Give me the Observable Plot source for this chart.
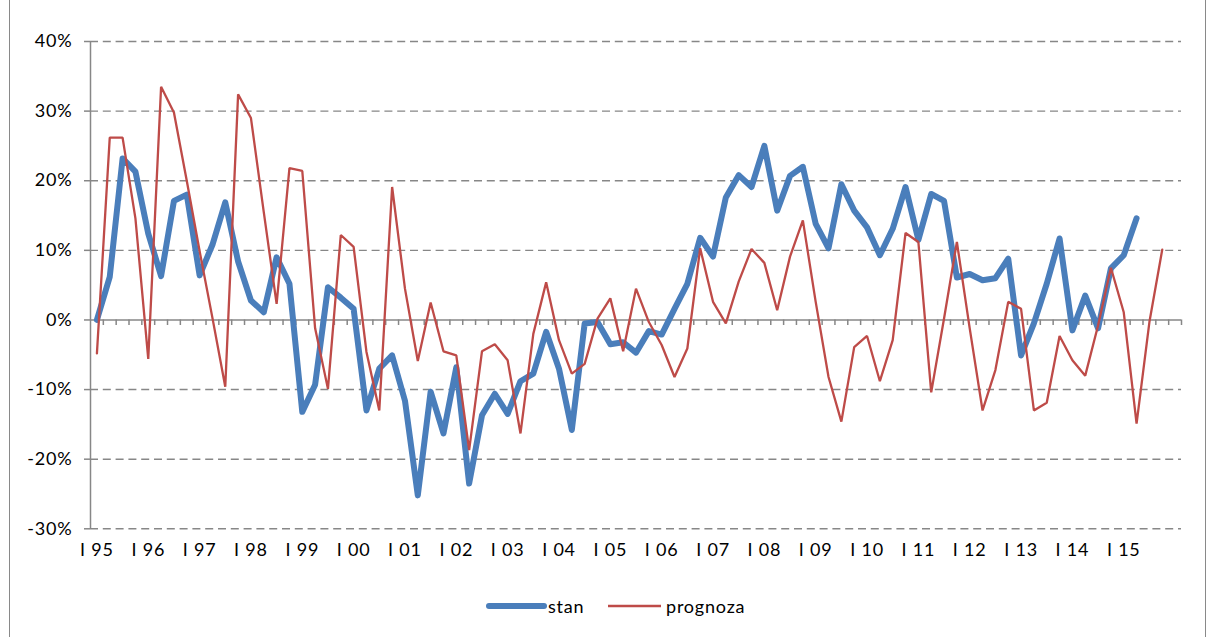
<!DOCTYPE html>
<html>
<head>
<meta charset="utf-8">
<script src="https://cdn.jsdelivr.net/npm/d3@7"></script>
<script src="https://cdn.jsdelivr.net/npm/@observablehq/plot@0.6"></script>
<style>
  body { margin: 0; background: #fff; }
  #wrap { position: relative; width: 1208px; height: 637px; overflow: hidden; font-family: Lato, "Open Sans", sans-serif; color: #000; }
  #frame { position: absolute; left: 9px; top: -2px; width: 1197px; height: 642px; border: 1px solid #898989; box-sizing: border-box; pointer-events: none; }
  #chart { position: absolute; left: 0; top: 0; }
  .lg { position: absolute; top: 594px; height: 24px; line-height: 24px; font-size: 18px; letter-spacing: 0.8px; }
</style>
</head>
<body>
<div id="wrap">
  <div id="chart"></div>
  <div id="legend"></div>
  <div id="frame"></div>
</div>
<script>
// ---- categories / tick labels ----
const years = ["95","96","97","98","99","00","01","02","03","04","05","06","07","08","09","10","11","12","13","14","15"];
const quarterNames = ["I","II","III","IV"];
const categories = [];
years.forEach(y => quarterNames.forEach(q => categories.push(q + " " + y)));
categories.push("I 16");
const tickLabels = years.map(y => "I " + y);
const yTicks = [-30, -20, -10, 0, 10, 20, 30, 40];

// ---- series values (%) ----
const stan = [
  0, 6.2, 23.2, 21.3, 12.4, 6.3, 17.1, 18.0, 6.4, 10.8, 16.9, 8.4, 2.8, 1.1, 9.0, 5.2,
  -13.2, -9.3, 4.7, 3.2, 1.6, -13.0, -7.0, -5.1, -11.6, -25.2, -10.3, -16.3, -6.8, -23.5, -13.7, -10.6,
  -13.5, -8.8, -7.7, -1.7, -7.0, -15.8, -0.5, -0.3, -3.5, -3.2, -4.7, -1.6, -2.1, 1.6, 5.2, 11.8,
  9.1, 17.6, 20.8, 19.1, 25.0, 15.7, 20.7, 22.0, 13.8, 10.3, 19.5, 15.7, 13.3, 9.3, 13.1, 19.1,
  11.5, 18.1, 17.1, 6.1, 6.6, 5.7, 6.0, 8.8, -5.1, -0.5, 5.2, 11.7, -1.5, 3.5, -1.2, 7.4,
  9.3, 14.6
];
const prognoza = [
  -4.8, 26.2, 26.2, 14.6, -5.6, 33.5, 29.8, 20.0, 9.9, 0.3, -9.6, 32.4, 29.0, 15.5, 2.3, 21.8,
  21.4, -1.2, -9.9, 12.2, 10.5, -4.6, -13.0, 19.1, 4.5, -5.9, 2.5, -4.5, -5.1, -18.7, -4.5, -3.5,
  -5.8, -16.3, -2.0, 5.4, -2.9, -7.7, -6.3, 0.2, 3.1, -4.5, 4.5, -0.3, -3.6, -8.2, -4.1, 10.3,
  2.6, -0.5, 5.5, 10.2, 8.2, 1.4, 9.1, 14.3, 2.6, -8.2, -14.6, -3.9, -2.3, -8.8, -2.9, 12.5,
  11.2, -10.4, 0.2, 11.2, -1.2, -13.0, -7.2, 2.6, 1.6, -13.0, -11.9, -2.3, -5.8, -8.0, -0.8, 7.5,
  1.1, -14.9, -0.3, 10.1
];

const colStan = "#4a7ebb";
const colProg = "#be4b48";
const axisCol = "#878787";

const stanData = stan.map((v, i) => ({ i, v }));
const progData = prognoza.map((v, i) => ({ i, v }));
const boundaries = d3.range(categories.length).map(i => i + 0.5);

const H = 570;
const chart = Plot.plot({
  width: 1208,
  height: H,
  marginLeft: 90,
  marginRight: 27,
  marginTop: 41,
  marginBottom: H - 528.3,
  style: { fontFamily: "Lato, 'Open Sans', sans-serif", fontSize: "18px", letterSpacing: "0.8px", color: "#000", background: "transparent" },
  x: { type: "linear", domain: [-0.5, categories.length - 0.5], axis: null },
  y: { domain: [-30, 40], axis: null },
  marks: [
    Plot.ruleY(yTicks.filter(d => d !== 0), { stroke: axisCol, strokeWidth: 1.4, strokeDasharray: "8,4.8" }),
    Plot.ruleY([0], { stroke: axisCol, strokeWidth: 1.5 }),
    Plot.ruleX(boundaries, { x: d => d, y1: 0, y2: -0.8, stroke: axisCol, strokeWidth: 1.5 }),
    Plot.ruleX([-0.5], { y1: -30, y2: 40, stroke: axisCol, strokeWidth: 1.5 }),
    Plot.axisY(yTicks, { label: null, tickSize: 6, tickPadding: 12, stroke: axisCol, strokeWidth: 1.5, tickFormat: d => d + "%", fontSize: 18 }),
    Plot.text(tickLabels, { x: d => categories.indexOf(d), text: d => d, frameAnchor: "bottom", dy: 27, fontSize: 18 }),
    Plot.line(stanData, { x: "i", y: "v", stroke: colStan, strokeWidth: 6, strokeLinejoin: "round", strokeLinecap: "round" }),
    Plot.line(progData, { x: "i", y: "v", stroke: colProg, strokeWidth: 2.3, strokeLinejoin: "miter" })
  ]
});
document.getElementById("chart").appendChild(chart);

// ---- legend ----
const legend = document.getElementById("legend");
legend.innerHTML = `
  <svg class="lg" style="left:486px;width:62px;" viewBox="0 0 62 24"><line x1="3" y1="12" x2="58" y2="12" stroke="${colStan}" stroke-width="6" stroke-linecap="round"/></svg>
  <div class="lg" style="left:548px;">stan</div>
  <svg class="lg" style="left:606px;width:58px;" viewBox="0 0 58 24"><line x1="2" y1="12" x2="55" y2="12" stroke="${colProg}" stroke-width="2.5"/></svg>
  <div class="lg" style="left:666px;">prognoza</div>
`;
</script>
</body>
</html>
